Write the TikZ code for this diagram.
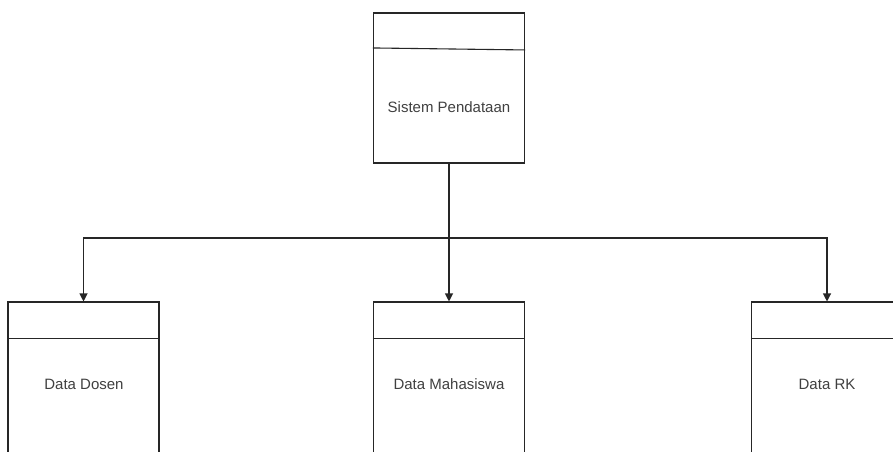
\documentclass[tikz,border=0pt]{standalone}
\usepackage{fontspec}
\setmainfont{Liberation Sans}
\usetikzlibrary{arrows.meta}
\begin{document}
\begin{tikzpicture}[x=1pt,y=-1pt,
  box/.style={draw=black!85, line width=1.1pt, minimum width=151pt, minimum height=150pt, inner sep=0pt},
  lowbox/.style={box, minimum height=170pt},
  lbl/.style={text=black!75, font=\fontsize{15}{18}\selectfont, inner sep=0pt},
  ln/.style={draw=black!85, line width=1.1pt},
  arr/.style={ln, -{Triangle[width=8pt,length=8pt]}}]
\useasboundingbox (0,0) rectangle (893,451);
\clip (0,0) rectangle (893,451);
\fill[white] (0,0) rectangle (893,451);
% top box
\node[box] (sys) at (449,88) {};
\draw[ln] ([yshift=-35.5pt]sys.north west) -- ([yshift=-37.5pt]sys.north east);
\node[lbl] (syslbl) at (449,107) {Sistem Pendataan};
% bottom boxes (cut off by the lower edge)
\node[lowbox] (dd) at (83.5,387) {};
\node[lowbox] (dm) at (449,387) {};
\node[lowbox] (dr) at (827,387) {};
\draw[ln] ([yshift=-37pt]dd.north west) -- ([yshift=-37pt]dd.north east);
\draw[ln] ([yshift=-37pt]dm.north west) -- ([yshift=-37pt]dm.north east);
\draw[ln] ([yshift=-37pt]dr.north west) -- ([yshift=-37pt]dr.north east);
\node[lbl] (ddl) at (84,384) {Data Dosen};
\node[lbl] (dml) at (449,384) {Data Mahasiswa};
\node[lbl] (drl) at (827,384) {Data RK};
% connectors
\coordinate (j) at (449,238);
\draw[ln] (sys.south) -- (j);
\draw[arr] (j) -| (dd.north);
\draw[arr] (j) -- (dm.north);
\draw[arr] (j) -| (dr.north);
\end{tikzpicture}
\end{document}
